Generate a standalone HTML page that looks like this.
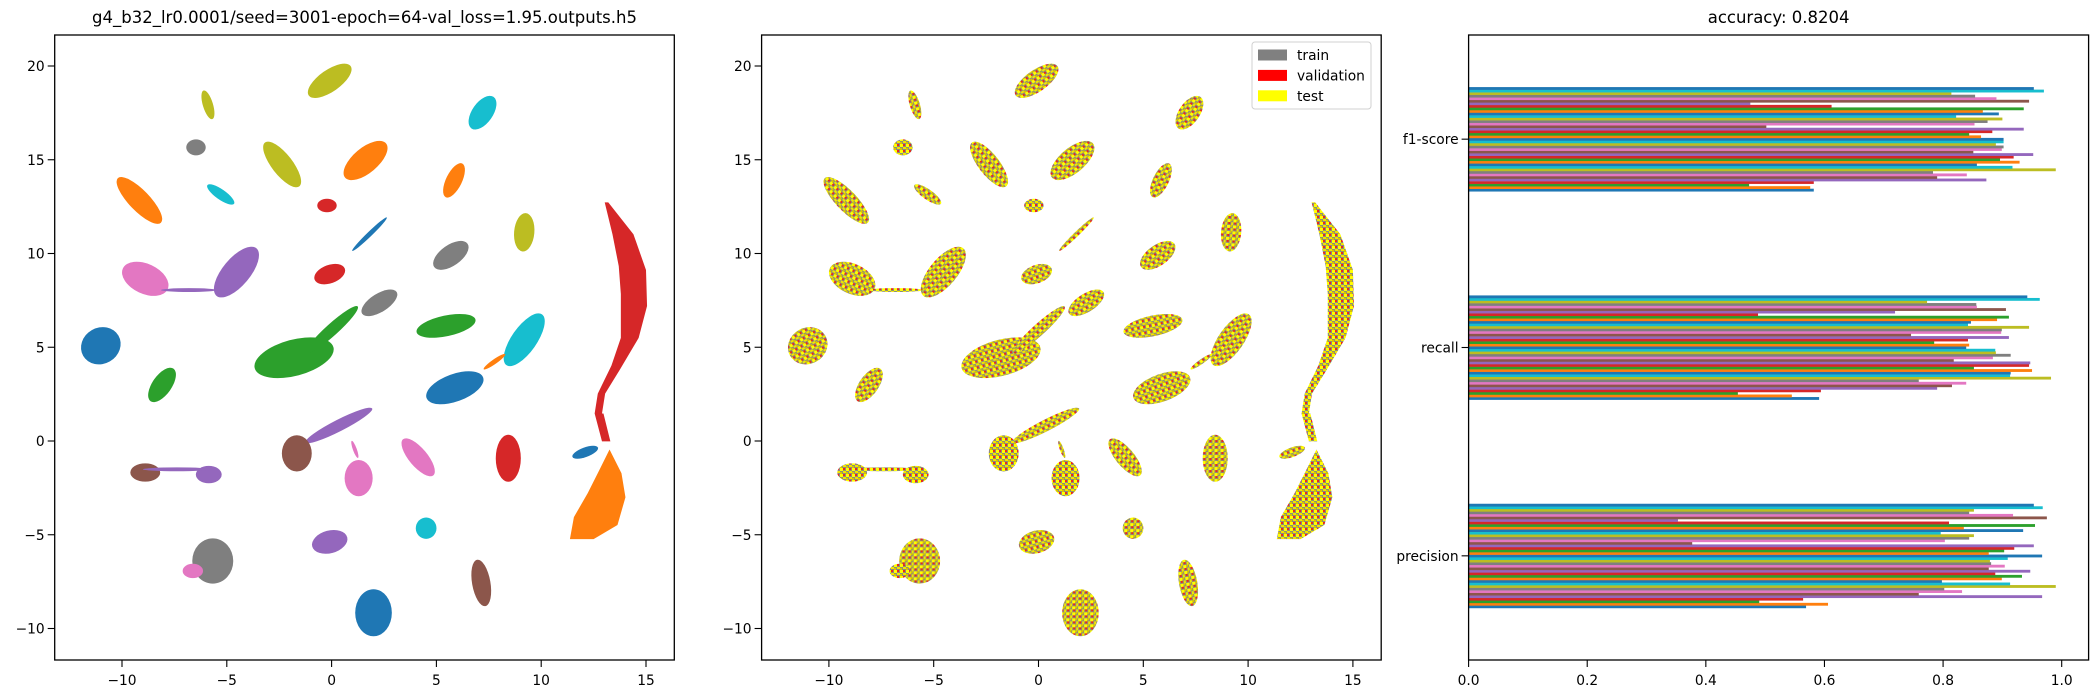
<!DOCTYPE html>
<html><head><meta charset="utf-8"><style>
html,body{margin:0;padding:0;background:#fff;}
svg{display:block;font-family:"DejaVu Sans","Liberation Sans",sans-serif;}
</style></head><body>
<svg id="fig" width="2100" height="700" viewBox="0 0 2100 700" xmlns="http://www.w3.org/2000/svg">
<defs>
<pattern id="mix" width="6" height="6" patternUnits="userSpaceOnUse">
<rect width="6" height="6" fill="#8c8c7a"/>
<rect x="0" y="0" width="3" height="3" fill="#ffff00"/>
<rect x="3" y="3" width="3" height="2" fill="#f2e600"/>
<rect x="3" y="0" width="2" height="2" fill="#e8281e"/>
<rect x="0" y="4" width="2" height="2" fill="#d9c200"/>
</pattern>
</defs>
<g id="p1"></g>
<g id="p2"></g>
<g id="p3"></g>
</svg>
<script>
// ---- cluster data (data coordinates) ----
const clusterX   = [-0.09,-5.90,-6.47,-9.17,-5.29,-2.36,1.62,-0.22,7.20,5.84,1.81,9.19,5.69,-8.89,-4.54,-6.81,-0.09,2.28,-1.79,0.01,5.46,9.19,7.77,5.88,-11.01,-8.09,0.35,-1.66,1.29,1.11,4.13,8.43,-8.89,-5.86,-7.38,4.51,-0.09,-5.67,-6.62,7.14,2.0,12.1];
const clusterY   = [19.21,17.93,15.66,12.83,13.15,14.75,14.96,12.56,17.51,13.9,11.03,11.13,9.90,8.65,9.01,8.05,8.90,7.37,4.44,5.93,6.14,5.40,4.23,2.84,5.08,2.99,0.83,-0.66,-1.98,-0.45,-0.87,-0.92,-1.68,-1.79,-1.51,-4.65,-5.38,-6.40,-6.93,-7.57,-9.16,-0.6];
const clusterA   = [1.13,0.66,0.43,1.37,0.72,1.23,1.18,0.43,0.85,0.83,1.06,0.85,0.9,1.09,1.37,1.23,0.71,0.9,1.8,1.54,1.33,1.37,0.58,1.33,0.9,0.88,1.65,0.66,0.62,0.4,1.04,1.04,0.66,0.57,1.5,0.47,0.8,1.0,0.45,1.04,1.04,0.6];
const clusterB   = [0.45,0.21,0.33,0.43,0.21,0.43,0.52,0.28,0.43,0.33,0.1,0.42,0.43,0.62,0.57,0.08,0.38,0.38,0.75,0.25,0.43,0.52,0.1,0.57,0.75,0.4,0.24,0.75,0.75,0.08,0.38,0.52,0.38,0.36,0.08,0.43,0.47,0.85,0.3,0.38,0.76,0.2];
const clusterAng = [-35,73,0,46,35,52,-40,0,-55,-64,-44,95,-35,25,-50,0,-20,-32,-15,-42,-12,-55,-35,-20,-30,-55,-27,0,0,70,50,90,0,0,0,90,-15,90,0,80,90,-20];
const clusterCls = [8,8,7,1,9,8,1,3,9,1,0,8,7,6,4,4,3,7,2,2,2,9,1,0,0,2,4,5,6,6,6,3,5,4,4,9,4,7,6,5,0,0];
const curveX = [13.03,13.40,13.70,13.80,13.80,13.35,12.70,12.55,12.90,13.30,12.97,12.90,13.05,13.75,14.65,15.05,15.00,14.40,13.20];
const curveY = [12.73,11.03,9.33,7.84,5.50,4.02,2.53,1.47,-0.02,-0.02,1.47,1.47,2.53,3.80,5.50,7.20,9.12,11.03,12.73];
const blobX = [13.26,13.83,14.02,13.64,12.50,11.37,11.56,12.22,12.79];
const blobY = [-0.45,-1.72,-3.00,-4.48,-5.23,-5.23,-4.06,-2.78,-1.51];
// ---- metrics data ----
const metricCats = ["precision","recall","f1-score"];
const precisionVals = [0.569,0.606,0.490,0.564,0.967,0.759,0.832,0.802,0.990,0.913,0.798,0.899,0.933,0.888,0.947,0.877,0.904,0.881,0.879,0.909,0.967,0.877,0.903,0.920,0.953,0.377,0.803,0.844,0.852,0.796,0.935,0.835,0.955,0.810,0.353,0.975,0.918,0.844,0.852,0.968,0.953];
const recallVals = [0.591,0.545,0.454,0.594,0.790,0.815,0.839,0.759,0.982,0.913,0.914,0.950,0.852,0.945,0.947,0.818,0.884,0.914,0.889,0.888,0.839,0.844,0.785,0.842,0.911,0.746,0.898,0.899,0.945,0.842,0.847,0.891,0.911,0.488,0.719,0.906,0.857,0.856,0.773,0.963,0.942];
const f1Vals = [0.582,0.576,0.473,0.582,0.873,0.790,0.840,0.783,0.990,0.917,0.857,0.929,0.896,0.919,0.952,0.851,0.899,0.902,0.889,0.902,0.902,0.864,0.844,0.883,0.936,0.502,0.853,0.875,0.900,0.822,0.894,0.867,0.936,0.612,0.475,0.945,0.890,0.854,0.814,0.970,0.953];
const xTicks = [-10,-5,0,5,10,15];
const yTicks = [-10,-5,0,5,10,15,20];
const barTicks = [0.0,0.2,0.4,0.6,0.8,1.0];

const tab10 = ["#1f77b4","#ff7f0e","#2ca02c","#d62728","#9467bd","#8c564b","#e377c2","#7f7f7f","#bcbd22","#17becf"];
const NS = "http://www.w3.org/2000/svg";
function mk(tag, attrs, parent){const e=document.createElementNS(NS,tag);for(const k in attrs)e.setAttribute(k,attrs[k]);parent.appendChild(e);return e;}
const TOP=35, BOT=660, W=619.6;
const KX=20.96, KY=18.75, Y0=441;
function fmt(v){return v<0?"\u2212"+Math.abs(v):String(v);}

function umapPanel(g, left, mode){
  const X0 = left + 276.9;
  const sx = x => X0 + x*KX;
  const sy = y => Y0 - y*KY;
  for(let i=0;i<clusterX.length;i++){
    const cx=sx(clusterX[i]), cy=sy(clusterY[i]);
    const e = mk("ellipse",{cx:cx,cy:cy,rx:clusterA[i]*KX*1.08,ry:clusterB[i]*KX*1.15,transform:`rotate(${clusterAng[i]} ${cx} ${cy})`,fill:mode?"url(#mix)":tab10[clusterCls[i]]},g);
    
    
  }
  const cpts = curveX.map((x,i)=>sx(x)+","+sy(curveY[i])).join(" ");
  const c = mk("polygon",{points:cpts,fill:mode?"url(#mix)":tab10[3]},g);
  
  
  const bpts = blobX.map((x,i)=>sx(x)+","+sy(blobY[i])).join(" ");
  const b = mk("polygon",{points:bpts,fill:mode?"url(#mix)":tab10[1]},g);
  
  
  const fr = mk("rect",{x:left,y:TOP,width:W,height:BOT-TOP,fill:"none",stroke:"#000","stroke-width":1.3},g);
  
  
  xTicks.forEach(t=>{
    const x=sx(t);
    mk("line",{x1:x,x2:x,y1:BOT,y2:BOT+7,stroke:"#000","stroke-width":1.1},g);
    const tx=mk("text",{x:x,y:BOT+25,"font-size":13.8,"text-anchor":"middle",fill:"#000"},g);
    tx.textContent=fmt(t);
    
    
  });
  yTicks.forEach(t=>{
    const y=sy(t);
    mk("line",{x1:left-7,x2:left,y1:y,y2:y,stroke:"#000","stroke-width":1.1},g);
    const tx=mk("text",{x:left-10,y:y+5,"font-size":13.8,"text-anchor":"end",fill:"#000"},g);
    tx.textContent=fmt(t);
    
    
  });
}
const p1=document.getElementById("p1"), p2=document.getElementById("p2"), p3=document.getElementById("p3");
umapPanel(p1, 54.7, 0);
umapPanel(p2, 761.6, 1);

const t1=mk("text",{x:364.5,y:23,"font-size":16.5,"text-anchor":"middle",fill:"#000"},p1);
t1.textContent="g4_b32_lr0.0001/seed=3001-epoch=64-val_loss=1.95.outputs.h5";



// legend
const lg = mk("g",{},p2);


mk("rect",{x:1252,y:42,width:119,height:67,rx:3,fill:"#fff","fill-opacity":0.8,stroke:"#d0d0d0"},lg);
const legNames=["train","validation","test"], legCols=["#808080","#ff0000","#ffff00"];
legNames.forEach((n,i)=>{
  const y=55+i*20.4;
  const r=mk("rect",{x:1258,y:y-5.5,width:29,height:11,fill:legCols[i]},lg);
  
  
  const t=mk("text",{x:1297,y:y+5,"font-size":13.8,fill:"#000"},lg);
  t.textContent=n;
  
  
});

// bar chart
const BL=1468.6, BR=2088.6, BS=593.1;
const bx = v => BL + v*BS;
const by = c => BOT - (c+0.5)*((BOT-TOP)/3);
const unit=(BOT-TOP)/3;
[precisionVals,recallVals,f1Vals].forEach((vals,c)=>{
  const n=vals.length, h=0.5/n;
  vals.forEach((v,i)=>{
    const yc = c - 0.25 + (i+0.5)*h;
    const r=mk("rect",{x:bx(0),y:by(yc)-h*unit/2,width:bx(v)-bx(0),height:h*unit+0.3,fill:tab10[i%10]},p3);
    
    
  });
});
const fr3=mk("rect",{x:BL,y:TOP,width:BR-BL,height:BOT-TOP,fill:"none",stroke:"#000","stroke-width":1.3},p3);


barTicks.forEach(t=>{
  const x=bx(t);
  mk("line",{x1:x,x2:x,y1:BOT,y2:BOT+7,stroke:"#000","stroke-width":1.1},p3);
  const tx=mk("text",{x:x,y:BOT+25,"font-size":13.8,"text-anchor":"middle",fill:"#000"},p3);
  tx.textContent=t.toFixed(1);
  
  
});
metricCats.forEach((m,c)=>{
  const y=by(c);
  mk("line",{x1:BL-7,x2:BL,y1:y,y2:y,stroke:"#000","stroke-width":1.1},p3);
  const tx=mk("text",{x:BL-10,y:y+5,"font-size":13.8,"text-anchor":"end",fill:"#000"},p3);
  tx.textContent=m;
  
  
});
const t3=mk("text",{x:(BL+BR)/2,y:23,"font-size":16.5,"text-anchor":"middle",fill:"#000"},p3);
t3.textContent="accuracy: 0.8204";


</script>
</body></html>
